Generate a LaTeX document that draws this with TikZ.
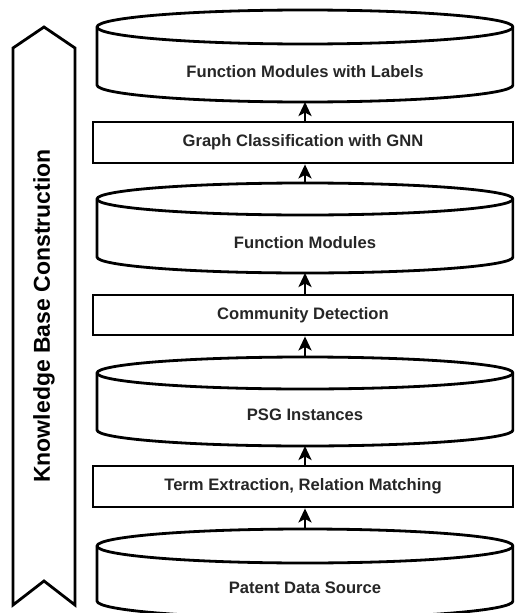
\documentclass[tikz,border=0pt]{standalone}
\usepackage{fontspec}
\setmainfont{Liberation Sans}
\usetikzlibrary{arrows.meta}
\newcommand\cylshape[3]{%
  \filldraw[lw, fill=white] (97,#1) -- (97,#2)
    arc[start angle=180,end angle=360,x radius=208pt,y radius=#3pt] -- (513,#1)
    arc[start angle=0,end angle=180,x radius=208pt,y radius=#3pt] -- cycle;
  \draw[lw] (97,#1) arc[start angle=180,end angle=360,x radius=208pt,y radius=#3pt];
}
\begin{document}
\begin{tikzpicture}[x=1pt,y=-1pt,
  lw/.style={line width=2.8pt, line join=miter},
  txt/.style={font=\fontsize{16.6}{19}\selectfont\bfseries, text=black!85},
  procbox/.style={draw, lw, fill=white, minimum width=420pt, minimum height=41pt, inner sep=0pt, txt},
  cylarea/.style={minimum width=416pt, inner sep=0pt, outer sep=0pt},
  lbl/.style={inner sep=0pt, txt},
  arr/.style={lw, -{Stealth[length=14pt,width=13pt,inset=3.5pt]}},
]
\useasboundingbox (0,0) rectangle (514,613);
\clip (0,0) rectangle (514,613);

% left ribbon
\draw[lw] (13,48) -- (44,27) -- (75,48) -- (75,605) -- (44,581) -- (13,605) -- cycle;
\node[rotate=90, inner sep=0pt, font=\fontsize{23}{26}\selectfont\bfseries] (kb) at (44,316) {Knowledge Base Construction};

% cylinders
\cylshape{27}{85}{17}
\node[cylarea, minimum height=92pt] (c1) at (305,56) {};
\node[lbl] (t1) at (305,72) {Function Modules with Labels};

\cylshape{199}{257}{16}
\node[cylarea, minimum height=90pt] (c2) at (305,228) {};
\node[lbl] (t2) at (305,243) {Function Modules};

\cylshape{373}{430}{16}
\node[cylarea, minimum height=89pt] (c3) at (305,401.5) {};
\node[lbl] (t3) at (305,415) {PSG Instances};

\cylshape{546}{601}{17}
\node[cylarea, minimum height=89pt] (c4) at (305,573.5) {};
\node[lbl] (t4) at (305,588) {Patent Data Source};

% process boxes
\node[procbox] (b1) at (303,142.5) {Graph Classification with GNN};
\node[procbox, minimum height=40pt] (b2) at (303,315) {Community Detection};
\node[procbox] (b3) at (303,486.5) {Term Extraction, Relation Matching};

% arrows
\draw[arr] (c4.north) -- (c4.north |- b3.south);
\draw[arr] (b3.north -| c3.south) -- (c3.south);
\draw[arr] (c3.north) -- (c3.north |- b2.south);
\draw[arr] (b2.north -| c2.south) -- (c2.south);
\draw[arr] (c2.north) -- (c2.north |- b1.south);
\draw[arr] (b1.north -| c1.south) -- (c1.south);
\end{tikzpicture}
\end{document}
